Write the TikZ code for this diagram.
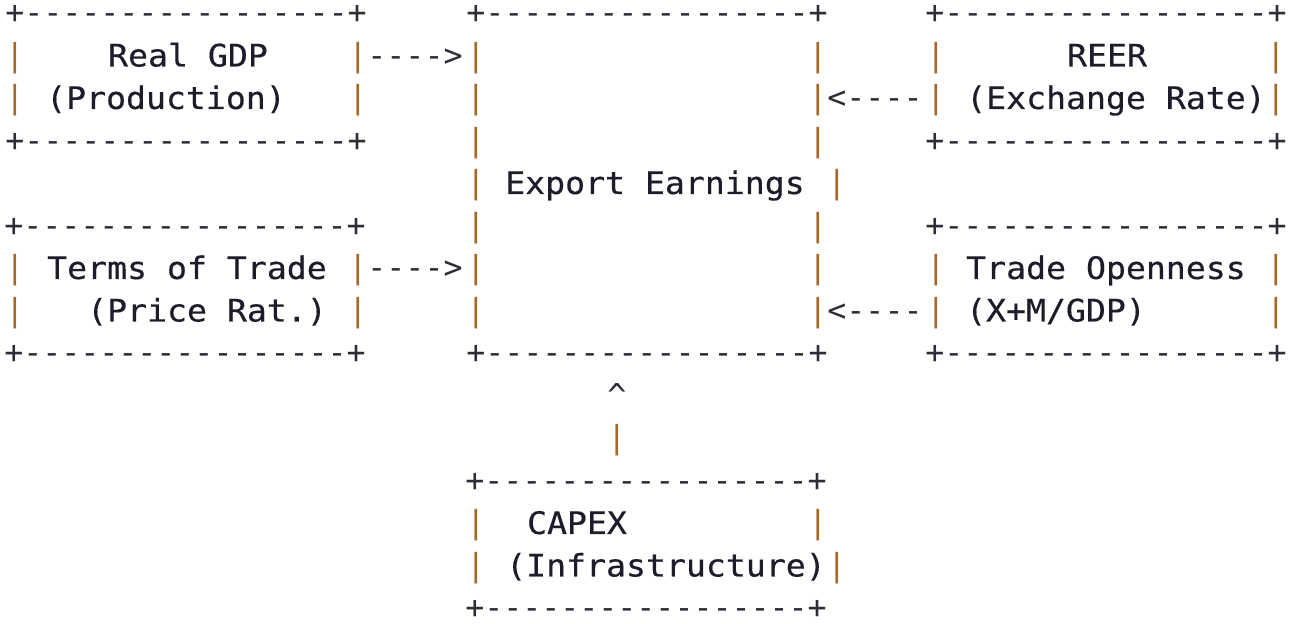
\documentclass[tikz,border=0pt]{standalone}
\usepackage{fontspec}
\setmonofont{DejaVu Sans Mono}
\newfontfamily\boxfont[FakeStretch=1.07,FakeBold=0.4]{DejaVu Sans Mono}

\definecolor{rimgray}{RGB}{45,45,55}
\definecolor{barbrown}{RGB}{166,104,40}
\definecolor{inkdark}{RGB}{28,28,42}

\tikzset{
  rim/.style={font=\ttfamily\fontsize{15.8}{15.8}\selectfont, text=rimgray, inner sep=0pt, anchor=base},
  upbar/.style={rim, text=barbrown},
  boxtext/.style={font=\boxfont\fontsize{15.5}{15.5}\selectfont, text=inkdark, inner sep=0pt, anchor=base},
}

\begin{document}
\begin{tikzpicture}[x=0.5pt, y=-21.25pt]
    \useasboundingbox (0pt,0pt) rectangle (648.5pt,-312pt);
    \begin{scope}[yshift=-12pt]
    % Real GDP
    \node[rim] (gdpTop) at (186,0) {+-----------------+};
    \node[boxtext] (gdp) at (188,1) {Real GDP};
    \node[boxtext] (gdpSub) at (166,2) {(Production)};
    \node[rim] (gdpBot) at (186,3) {+-----------------+};
    \foreach \r in {1,2} {
        \node[upbar] (gdpL\r) at (15,\r) {|};
        \node[upbar] (gdpR\r) at (358,\r) {|};
    }

    % Terms of trade
    \node[rim] (totTop) at (185,5) {+-----------------+};
    \node[boxtext] (tot) at (187,6) {Terms of Trade};
    \node[boxtext] (totSub) at (207,7) {(Price Rat.)};
    \node[rim] (totBot) at (185,8) {+-----------------+};
    \foreach \r in {6,7} {
        \node[upbar] (totL\r) at (15,\r) {|};
        \node[upbar] (totR\r) at (358,\r) {|};
    }

    % Export earnings (tall box in the middle)
    \node[rim] (expTop) at (647,0) {+-----------------+};
    \node[boxtext] (exp) at (655,4) {Export Earnings};
    \node[rim] (expBot) at (647,8) {+-----------------+};
    \foreach \r in {1,...,7} {
        \node[upbar] (expL\r) at (476,\r) {|};
    }
    \foreach \r in {1,2,3,5,6,7} {
        \node[upbar] (expR\r) at (818,\r) {|};
    }
    \node[upbar] (expR4) at (837,4) {|};

    % REER
    \node[rim] (reerTop) at (1106,0) {+-----------------+};
    \node[boxtext] (reer) at (1107,1) {REER};
    \node[boxtext] (reerSub) at (1116,2) {(Exchange Rate)};
    \node[rim] (reerBot) at (1106,3) {+-----------------+};
    \foreach \r in {1,2} {
        \node[upbar] (reerL\r) at (936,\r) {|};
        \node[upbar] (reerR\r) at (1276,\r) {|};
    }

    % Trade openness
    \node[rim] (openTop) at (1106,5) {+-----------------+};
    \node[boxtext] (open) at (1106,6) {Trade Openness};
    \node[boxtext] (openSub) at (1056,7) {(X+M/GDP)};
    \node[rim] (openBot) at (1106,8) {+-----------------+};
    \foreach \r in {6,7} {
        \node[upbar] (openL\r) at (936,\r) {|};
        \node[upbar] (openR\r) at (1276,\r) {|};
    }

    % CAPEX
    \node[rim] (capTop) at (646,11) {+-----------------+};
    \node[boxtext] (cap) at (577,12) {CAPEX};
    \node[boxtext] (capSub) at (666,13) {(Infrastructure)};
    \node[rim] (capBot) at (646,14) {+-----------------+};
    \foreach \r in {12,13} {
        \node[upbar] (capL\r) at (476,\r) {|};
    }
    \node[upbar] (capR12) at (818,12) {|};
    \node[upbar] (capR13) at (837,13) {|};

    % Arrows into export earnings
    \node[rim] (gdpArr) at (415,1) {---->};
    \node[rim] (totArr) at (415,6) {---->};
    \node[rim] (reerArr) at (875,2) {<----};
    \node[rim] (openArr) at (875,7) {<----};
    \node[rim] (capHead) at (617,9) {\textasciicircum};
    \node[upbar] (capStem) at (617,10) {|};
    \end{scope}
\end{tikzpicture}
\end{document}
